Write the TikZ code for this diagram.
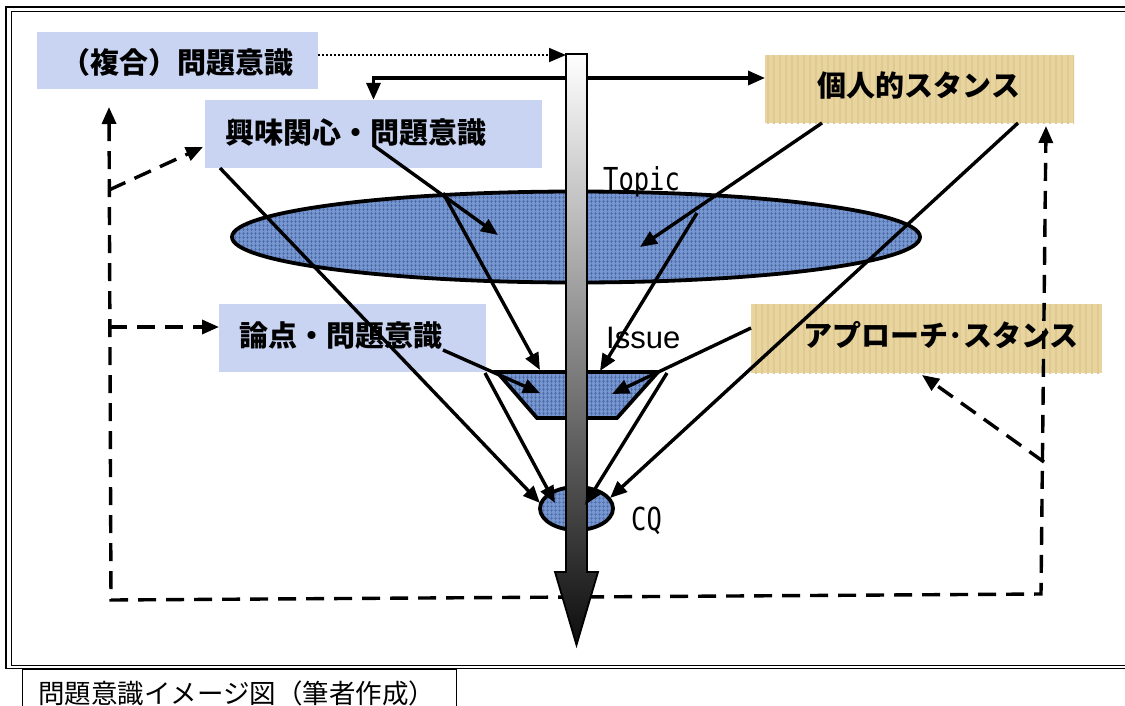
\documentclass[tikz,border=0pt]{standalone}
\usepackage{fontspec}
\usepackage{graphicx}
\usetikzlibrary{arrows.meta,shapes.geometric,patterns.meta}
\newfontfamily\jp{Noto Sans CJK JP}
\newfontfamily\hwm{DejaVu Sans Mono}
\newfontfamily\lsans{Liberation Sans}
\definecolor{boxblue}{HTML}{C8D4F2}
\definecolor{boxtan}{HTML}{E8D49E}
\definecolor{denim}{HTML}{7797D0}
\definecolor{denimdark}{HTML}{4F6DAA}
\definecolor{tanstreak}{HTML}{E0CA92}
\newcommand{\hwtext}[1]{\scalebox{0.91}[1.13]{\hwm\fontsize{28}{30}\selectfont #1}}
\begin{document}
\begin{tikzpicture}[x=1pt,y=-1pt,
  bluebox/.style={fill=boxblue, draw=none, inner sep=0pt},
  tanbox/.style={preaction={fill=boxtan}, pattern={Lines[angle=90,distance=6pt,line width=1.5pt]}, pattern color=tanstreak, draw=none, inner sep=0pt},
  jplabel/.style={font=\jp\bfseries\fontsize{29}{32}\selectfont, anchor=base, inner sep=0pt},
  tip/.style={-{Triangle[length=17pt,width=14pt]}},
  solidarrow/.style={line width=3.4pt, tip},
  dashline/.style={line width=3.4pt, dash pattern=on 18pt off 10pt},
  dasharrow/.style={dashline, tip},
  denimfill/.style={preaction={fill=denim}, pattern={Hatch[angle=0,distance=4pt,line width=0.9pt]}, pattern color=denimdark},
  disc/.style={ellipse, denimfill, draw=black, line width=3.8pt, inner sep=0pt},
]
\useasboundingbox (0,0) rectangle (1125,705);
% frame
\draw[line width=1.6pt] (6,7) rectangle (1140,668.5);
\draw[line width=1pt] (11,11.5) rectangle (1140,665);
% caption
\node[draw, line width=1.2pt, fill=white, minimum width=434pt, minimum height=50pt, anchor=north west, inner sep=0pt] (cap) at (22,668.5) {};
\node[anchor=base west, inner sep=0pt, font=\jp\fontsize{26.5}{28}\selectfont] (captext) at (38,703) {問題意識イメージ図（筆者作成）};
% boxes
\node[bluebox, minimum width=281pt, minimum height=57pt] (A) at (177.5,60.5) {};
\node[bluebox, minimum width=337pt, minimum height=68pt] (B) at (373.5,134) {};
\node[tanbox, minimum width=309pt, minimum height=68pt] (C) at (919.5,89) {};
\node[bluebox, minimum width=267pt, minimum height=68pt] (D) at (352.5,338) {};
\node[tanbox, minimum width=351pt, minimum height=69pt] (E) at (926.5,338.5) {};
\node[jplabel] (Atext) at (177,73) {（複合）問題意識};
\node[jplabel] (Btext) at (356,143) {興味関心・問題意識};
\node[jplabel] (Ctext) at (919,96) {個人的スタンス};
\node[jplabel] (Dtext) at (341,346) {論点・問題意識};
\node[jplabel] (Etext) at (941,346) {アプローチ･スタンス};
% topic ellipse, issue trapezoid, CQ ellipse
\node[disc, minimum width=688pt, minimum height=91pt] (topic) at (576,237) {};
\draw[line width=3.8pt, denimfill, draw=black] (497,372) -- (658,372) -- (617,418) -- (537,418) -- cycle;
\node[disc, minimum width=73pt, minimum height=43pt] (cq) at (576.5,508.5) {};
% labels
\node[anchor=base west, inner sep=0pt] (topiclbl) at (603,190) {\hwtext{Topic}};
\node[anchor=base west, inner sep=0pt, font=\lsans\fontsize{31}{34}\selectfont] (issuelbl) at (606,348) {Issue};
\node[anchor=base west, inner sep=0pt] (cqlbl) at (631,530) {\hwtext{CQ}};
% coordinates
\coordinate (dTL) at (109,107);
\coordinate (dBL) at (111,600);
\coordinate (dBR) at (1041,594);
\coordinate (dTR) at (1046,126);
\coordinate (dB1) at (109,190);
\coordinate (dB2) at (203,147);
\coordinate (dD1) at (109,327);
\coordinate (dD2) at (219,327);
\coordinate (dE1) at (1044,462);
\coordinate (dE2) at (922,375);
\coordinate (Cw) at (765,78);
\coordinate (Ae) at (318,55);
\coordinate (sh) at (566,55);
\coordinate (b1) at (373,145);
\coordinate (b2) at (220,168);
\coordinate (t1) at (498,235);
\coordinate (t2) at (443,193);
\coordinate (t3) at (697,213);
\coordinate (t4) at (640,247);
\coordinate (c1) at (822,123);
\coordinate (c2) at (1018,123);
\coordinate (d1) at (443,350);
\coordinate (e1) at (751,328);
\coordinate (i1) at (540,370);
\coordinate (i2) at (600,371);
\coordinate (i3) at (540,393);
\coordinate (i4) at (612,394);
\coordinate (i5) at (485,373);
\coordinate (i6) at (667,373);
\coordinate (q1) at (540,503);
\coordinate (q2) at (555,503);
\coordinate (q3) at (585,505);
\coordinate (q4) at (610,498);
% dashed feedback lines
\draw[dashline, {Triangle[length=17pt,width=14pt]}-{Triangle[length=17pt,width=14pt]}] (dTL) -- (dBL) -- (dBR) -- (dTR);
\draw[dasharrow] (dB1) -- (dB2);
\draw[dasharrow] (dD1) -- (dD2);
\draw[dasharrow] (dE1) -- (dE2);
% connector B <-> C
\draw[line width=3.4pt, {Triangle[length=17pt,width=14pt]}-{Triangle[length=17pt,width=14pt]}] (B.north) |- (Cw);
% shaft
\shade[top color=white, middle color=black!30, bottom color=black!95, draw=black, line width=1.8pt]
  (566,54) -- (587,54) -- (587,572) -- (598,572) -- (576.5,645) -- (555,572) -- (566,572) -- cycle;
% solid arrows
\draw[solidarrow] (b1) -- (t1);
\draw[solidarrow] (b2) -- (q1);
\draw[solidarrow] (t2) -- (i1);
\draw[solidarrow] (t3) -- (i2);
\draw[solidarrow] (c1) -- (t4);
\draw[solidarrow] (c2) -- (q4);
\draw[solidarrow] (d1) -- (i3);
\draw[solidarrow] (e1) -- (i4);
\draw[solidarrow] (i5) -- (q2);
\draw[solidarrow] (i6) -- (q3);
% dotted arrow
\draw[line width=1.8pt, dash pattern=on 1.8pt off 2.2pt, -{Triangle[length=17pt,width=14pt]}] (Ae) -- (sh);
\end{tikzpicture}
\end{document}
